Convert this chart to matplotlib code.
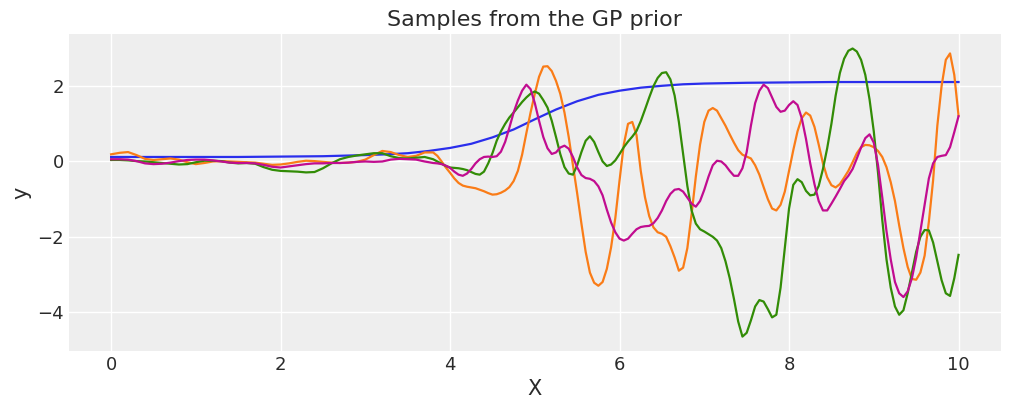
import numpy as np
import matplotlib
matplotlib.use("Agg")
import matplotlib.pyplot as plt

# sample positions: coarse on the flat part, finer where the curves wiggle
X = np.round(np.concatenate([np.arange(0, 3.8, 0.1), np.arange(3.8, 10.001, 0.05)]), 2)

# mean-like smooth sample (own grid)
x_blue = [0, 0.5, 1, 1.5, 2, 2.5, 3, 3.25, 3.5, 3.75, 4, 4.25, 4.5, 4.75, 5, 5.25, 5.5,
          5.75, 6, 6.25, 6.5, 6.75, 7, 7.5, 8, 8.5, 9, 9.5, 10]
y_blue = [0.12, 0.12, 0.12, 0.12, 0.13, 0.14, 0.17, 0.19, 0.22, 0.28, 0.36, 0.47, 0.64, 0.85,
          1.12, 1.38, 1.6, 1.77, 1.88, 1.96, 2.01, 2.05, 2.07, 2.09, 2.1, 2.11, 2.11, 2.11, 2.11]

y_orange = [
    # 0.0 - 3.7
    0.19, 0.23, 0.25, 0.17, 0.07, 0.04, 0.06, 0.08, 0.05, -0.02,
    -0.07, -0.04, 0.0, 0.01, 0.0, -0.01, -0.02, -0.03, -0.06, -0.09,
    -0.08, -0.05, -0.01, 0.02, 0.01, -0.01, -0.03, -0.04, -0.03, -0.01,
    0.05, 0.17, 0.28, 0.25, 0.17, 0.12, 0.15, 0.24,
    # 3.8 - 10.0
    0.24, 0.15, 0.0, -0.16, -0.3, -0.45, -0.57, -0.64, -0.67, -0.69,
    -0.71, -0.75, -0.79, -0.84, -0.88, -0.87, -0.83, -0.77, -0.68, -0.52,
    -0.25, 0.18, 0.75, 1.3, 1.8, 2.25, 2.52, 2.53, 2.4, 2.14,
    1.8, 1.3, 0.65, -0.1, -0.85, -1.65, -2.4, -2.95, -3.22, -3.3,
    -3.2, -2.85, -2.28, -1.5, -0.5, 0.45, 1.0, 1.05, 0.7, -0.25,
    -0.95, -1.45, -1.75, -1.88, -1.92, -2.0, -2.25, -2.55, -2.9, -2.82,
    -2.3, -1.4, -0.4, 0.45, 1.05, 1.35, 1.42, 1.35, 1.15, 0.95,
    0.72, 0.5, 0.3, 0.18, 0.13, 0.08, -0.1, -0.35, -0.68, -1.0,
    -1.25, -1.3, -1.15, -0.8, -0.25, 0.3, 0.8, 1.15, 1.3, 1.22,
    0.92, 0.45, -0.05, -0.42, -0.63, -0.69, -0.6, -0.43, -0.25, -0.02,
    0.22, 0.38, 0.44, 0.43, 0.38, 0.28, 0.12, -0.15, -0.55, -1.05,
    -1.7, -2.3, -2.8, -3.12, -3.14, -2.95, -2.5, -1.6, -0.5, 0.95,
    2.0, 2.7, 2.87, 2.3, 1.22,
]

y_green = [
    # 0.0 - 3.7
    0.04, 0.04, 0.03, 0.01, 0.0, -0.02, -0.04, -0.06, -0.08, -0.07,
    -0.02, 0.02, 0.02, 0.01, -0.03, -0.05, -0.04, -0.06, -0.15, -0.22,
    -0.25, -0.26, -0.27, -0.29, -0.28, -0.18, -0.05, 0.06, 0.12, 0.16,
    0.19, 0.22, 0.22, 0.14, 0.09, 0.08, 0.1, 0.12,
    # 3.8 - 10.0
    0.06, 0.0, -0.06, -0.12, -0.16, -0.17, -0.18, -0.2, -0.23, -0.28,
    -0.33, -0.35, -0.27, -0.05, 0.22, 0.55, 0.8, 1.0, 1.17, 1.3,
    1.44, 1.58, 1.7, 1.8, 1.86, 1.8, 1.63, 1.43, 1.08, 0.65,
    0.2, -0.15, -0.32, -0.35, -0.1, 0.25, 0.55, 0.67, 0.52, 0.25,
    0.0, -0.12, -0.08, 0.03, 0.2, 0.38, 0.53, 0.66, 0.81, 1.07,
    1.38, 1.7, 2.0, 2.22, 2.35, 2.37, 2.18, 1.75, 1.05, 0.2,
    -0.65, -1.3, -1.65, -1.8, -1.86, -1.93, -2.0, -2.1, -2.3, -2.65,
    -3.1, -3.65, -4.25, -4.65, -4.55, -4.22, -3.85, -3.68, -3.72, -3.92,
    -4.14, -4.07, -3.35, -2.3, -1.25, -0.62, -0.47, -0.55, -0.78, -0.9,
    -0.88, -0.65, -0.2, 0.35, 1.0, 1.75, 2.35, 2.73, 2.94, 3.0,
    2.92, 2.7, 2.3, 1.65, 0.8, -0.3, -1.55, -2.6, -3.35, -3.85,
    -4.07, -3.95, -3.5, -2.95, -2.4, -2.0, -1.82, -1.83, -2.15, -2.65,
    -3.15, -3.5, -3.57, -3.1, -2.48,
]

y_magenta = [
    # 0.0 - 3.7
    0.06, 0.06, 0.05, 0.01, -0.05, -0.07, -0.06, -0.03, 0.01, 0.04,
    0.05, 0.05, 0.03, 0.0, -0.03, -0.04, -0.04, -0.05, -0.09, -0.14,
    -0.16, -0.13, -0.1, -0.07, -0.05, -0.05, -0.04, -0.04, -0.03, -0.01,
    0.0, -0.01, 0.0, 0.05, 0.07, 0.06, 0.05, 0.0,
    # 3.8 - 10.0
    -0.04, -0.05, -0.07, -0.11, -0.17, -0.27, -0.35, -0.38, -0.32, -0.2,
    -0.05, 0.06, 0.12, 0.13, 0.12, 0.14, 0.26, 0.52, 0.9, 1.3,
    1.62, 1.88, 2.04, 1.92, 1.55, 1.08, 0.65, 0.35, 0.2, 0.24,
    0.37, 0.42, 0.34, 0.12, -0.16, -0.36, -0.44, -0.46, -0.52, -0.66,
    -0.9, -1.28, -1.62, -1.88, -2.05, -2.1, -2.05, -1.92, -1.8, -1.74,
    -1.72, -1.71, -1.64, -1.5, -1.3, -1.05, -0.86, -0.75, -0.73, -0.8,
    -0.96, -1.12, -1.2, -1.05, -0.75, -0.4, -0.1, 0.02, 0.0, -0.1,
    -0.25, -0.38, -0.38, -0.18, 0.25, 0.95, 1.55, 1.88, 2.04, 1.95,
    1.7, 1.45, 1.32, 1.35, 1.5, 1.6, 1.5, 1.15, 0.6, -0.05,
    -0.6, -1.05, -1.3, -1.3, -1.12, -0.93, -0.73, -0.52, -0.38, -0.2,
    0.08, 0.37, 0.62, 0.72, 0.5, -0.1, -0.95, -1.85, -2.6, -3.2,
    -3.5, -3.6, -3.45, -3.1, -2.55, -1.85, -1.15, -0.45, -0.05, 0.12,
    0.15, 0.17, 0.38, 0.78, 1.2,
]

text_color = "#2a2a2a"
plt.rcParams.update({
    "font.family": "DejaVu Sans",
    "axes.facecolor": "#eeeeee",
    "axes.edgecolor": "white",
    "axes.grid": True,
    "grid.color": "white",
    "grid.linewidth": 1.0,
    "xtick.major.size": 0,
    "ytick.major.size": 0,
    "xtick.labelsize": 13,
    "ytick.labelsize": 13,
    "xtick.color": text_color,
    "ytick.color": text_color,
    "text.color": text_color,
    "axes.labelcolor": text_color,
    "lines.solid_joinstyle": "round",
})

fig, ax = plt.subplots(figsize=(10.11, 4.11), dpi=100)
fig.subplots_adjust(left=0.068, right=0.990, top=0.917, bottom=0.146)
for s in ax.spines.values():
    s.set_visible(False)
ax.set_axisbelow(True)

ax.plot(x_blue, y_blue, color="#2a2eec", lw=1.6)
ax.plot(X, y_orange, color="#fa7c17", lw=1.6)
ax.plot(X, y_green, color="#328c06", lw=1.6)
ax.plot(X, y_magenta, color="#c10c90", lw=1.6)

ax.set_xticks([0, 2, 4, 6, 8, 10])
ax.set_yticks([-4, -2, 0, 2])
ax.set_title("Samples from the GP prior", fontsize=16)
ax.set_xlabel("X", fontsize=15, labelpad=4)
ax.set_ylabel("y", fontsize=15)

fig.savefig("out.png", dpi=100)
